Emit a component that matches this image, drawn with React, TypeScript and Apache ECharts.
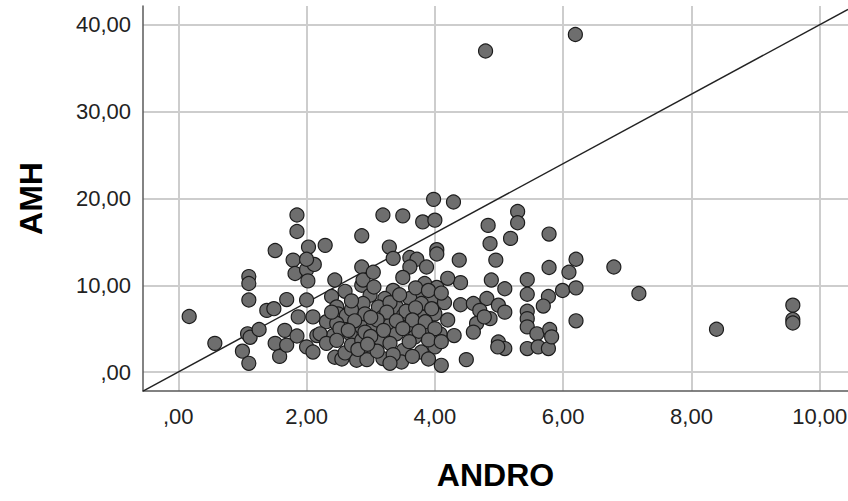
import React, { useEffect, useRef } from 'react';
import * as echarts from 'echarts';

const xTicks = [0, 2, 4, 6, 8, 10];
const yTicks = [0, 10, 20, 30, 40];

const andro = [
  0.17, 0.57, 1.10, 1.10, 1.10, 1.08, 1.12, 1.00, 1.10, 1.26,
  1.38, 1.49, 1.51, 1.51, 1.58, 1.66, 1.69, 1.69, 1.85, 1.85,
  1.79, 1.82, 1.87, 1.85, 2.03, 2.00, 2.02, 2.12, 2.00, 2.29,
  2.44, 2.00, 2.10, 2.16, 2.00, 2.10, 2.31, 2.39, 2.47, 2.49,
  2.62, 2.42, 2.68, 2.86, 2.21, 2.31, 2.44, 2.47, 2.39, 2.55,
  2.60, 2.78, 2.70, 2.86, 2.86, 2.86, 2.86, 2.52, 2.47, 2.88,
  3.98, 4.29, 3.19, 3.50, 3.81, 4.00, 3.29, 4.03, 4.03, 3.35,
  3.61, 3.72, 3.61, 3.87, 4.38, 3.04, 3.50, 3.84, 4.03, 4.40,
  3.35, 3.79, 2.99, 3.22, 3.61, 3.95, 4.40, 2.88, 3.12, 3.40,
  3.79, 4.00, 2.91, 3.19, 3.51, 3.79, 3.61, 3.30, 3.04, 3.90,
  4.30, 4.08, 2.91, 3.40, 3.69, 4.00, 3.14, 3.51, 2.99, 3.19,
  3.48, 2.94, 3.79, 4.10,
  3.05, 3.30, 3.45, 3.70, 3.90, 3.55, 3.25, 3.70, 3.95, 3.10,
  3.40, 3.65, 3.85, 3.20, 3.50, 3.75, 4.00, 3.00, 3.30, 3.60,
  3.90, 4.10, 3.10, 3.35, 3.65, 3.90, 3.30, 3.00, 2.70, 2.75,
  2.80, 2.60, 2.70, 2.65, 2.95, 4.15, 4.20, 4.10, 4.20,
  5.29, 5.29, 4.83, 5.18, 4.86, 5.78, 4.95, 5.78, 4.88, 5.09,
  5.44, 5.44, 5.77, 4.60, 4.81, 4.70, 4.99, 5.09, 5.44, 5.69,
  4.86, 5.44, 4.65, 5.44, 4.60, 5.59, 4.99, 5.09, 4.98, 5.44,
  5.61, 5.77, 4.49, 6.20, 6.09, 6.79, 5.99, 6.20, 7.18, 6.20,
  5.79, 5.82, 4.77, 8.39, 9.58, 9.58, 9.58, 4.79, 6.19,
];

const amh = [
  6.4, 3.3, 11.0, 10.2, 8.3, 4.4, 4.0, 2.4, 1.0, 4.9,
  7.1, 7.3, 14.0, 3.3, 1.8, 4.8, 8.35, 3.1, 18.1, 16.2,
  12.9, 11.35, 6.35, 4.15, 14.4, 11.8, 10.5, 12.4, 13.0, 14.6,
  10.6, 8.3, 6.35, 4.2, 2.9, 2.3, 5.8, 8.7, 7.5, 6.7,
  6.5, 4.2, 4.4, 5.2, 4.4, 3.3, 1.7, 5.6, 6.9, 1.5,
  2.2, 1.35, 3.1, 3.65, 15.7, 12.1, 10.0, 5.0, 3.65, 10.6,
  19.9, 19.6, 18.1, 18.0, 17.3, 17.5, 14.4, 14.1, 13.6, 13.1,
  13.2, 13.0, 12.1, 12.1, 12.9, 11.5, 10.9, 10.2, 9.75, 10.3,
  9.4, 9.05, 8.85, 8.47, 8.47, 8.47, 7.75, 7.9, 7.5, 7.5,
  7.9, 6.7, 6.7, 6.35, 6.5, 6.35, 5.4, 5.4, 5.2, 5.2,
  4.2, 4.4, 4.6, 4.4, 4.05, 2.9, 3.65, 2.5, 2.7, 1.55,
  1.15, 1.43, 2.3, 0.77,
  9.8, 8.0, 8.9, 9.7, 9.4, 7.0, 6.9, 7.4, 7.3, 6.0,
  5.9, 6.0, 5.8, 4.8, 5.0, 4.7, 5.0, 4.1, 3.3, 3.5,
  3.7, 3.5, 2.4, 2.0, 1.8, 1.5, 1.0, 6.3, 7.2, 5.9,
  2.6, 9.3, 8.2, 4.8, 3.2, 8.0, 6.0, 9.1, 10.8,
  18.5, 17.2, 16.9, 15.4, 14.8, 15.9, 12.9, 12.05, 10.6, 9.6,
  10.65, 8.96, 8.7, 7.9, 8.47, 7.1, 7.7, 6.9, 7.0, 7.6,
  6.15, 6.15, 5.6, 5.2, 4.6, 4.4, 3.46, 2.7, 2.9, 2.7,
  2.9, 2.7, 1.43, 13.0, 11.5, 12.1, 9.4, 9.7, 9.05, 5.9,
  4.9, 4.05, 6.35, 4.93, 7.7, 6.05, 5.65, 37.0, 38.9,
];

const refLineX = [-0.55, 10.44];
const refLineY = [-2.2, 41.8];

const FONT = '"Liberation Sans", Arial, sans-serif';

const fmt = (v: number) => {
  const s = v.toFixed(2).replace('.', ',');
  return s.startsWith('0,') ? s.slice(1) : s;
};

export default function App() {
  const ref = useRef<HTMLDivElement>(null);
  useEffect(() => {
    if (!ref.current) return;
    const chart = echarts.init(ref.current, undefined, { renderer: 'svg' });
    const points = andro.map((x, i) => [x, amh[i]]);
    const line = refLineX.map((x, i) => [x, refLineY[i]]);
    chart.setOption({
      animation: false,
      backgroundColor: '#ffffff',
      grid: { left: 143, top: 6, right: 0, bottom: 110, containLabel: false, outerBoundsMode: 'none' },
      xAxis: {
        type: 'value',
        min: -0.55,
        max: 10.44,
        name: 'ANDRO',
        nameLocation: 'middle',
        nameGap: 68,
        nameTextStyle: { fontFamily: FONT, fontSize: 32, fontWeight: 'bold', color: '#000' },
        axisLine: { show: true, onZero: false, lineStyle: { color: '#5a5a5a', width: 1.5 } },
        axisTick: { show: false, customValues: xTicks },
        axisLabel: { customValues: xTicks, formatter: fmt, fontFamily: FONT, fontSize: 22, color: '#222', margin: 14 },
        splitLine: { show: true, lineStyle: { color: '#cdcdcd', width: 2 } },
      },
      yAxis: {
        type: 'value',
        min: -2.19,
        max: 42.19,
        name: 'AMH',
        nameLocation: 'middle',
        nameGap: 96,
        nameTextStyle: { fontFamily: FONT, fontSize: 32, fontWeight: 'bold', color: '#000' },
        axisLine: { show: true, onZero: false, lineStyle: { color: '#5a5a5a', width: 1.5 } },
        axisTick: { show: false, customValues: yTicks },
        axisLabel: { customValues: yTicks, formatter: fmt, fontFamily: FONT, fontSize: 22, color: '#222', margin: 12 },
        splitLine: { show: true, lineStyle: { color: '#cdcdcd', width: 2 } },
      },
      series: [
        {
          type: 'line',
          data: line,
          showSymbol: false,
          silent: true,
          z: 2,
          lineStyle: { color: '#222', width: 1.4 },
        },
        {
          type: 'scatter',
          data: points,
          symbol: 'circle',
          symbolSize: 14,
          z: 3,
          itemStyle: { color: '#6e6e6e', borderColor: '#1c1c1c', borderWidth: 1.2, opacity: 1 },
        },
      ],
    });
    return () => chart.dispose();
  }, []);
  return (
    <div
      ref={ref}
      style={{ position: 'fixed', left: 0, top: 0, width: 848, height: 501 }}
    />
  );
}
